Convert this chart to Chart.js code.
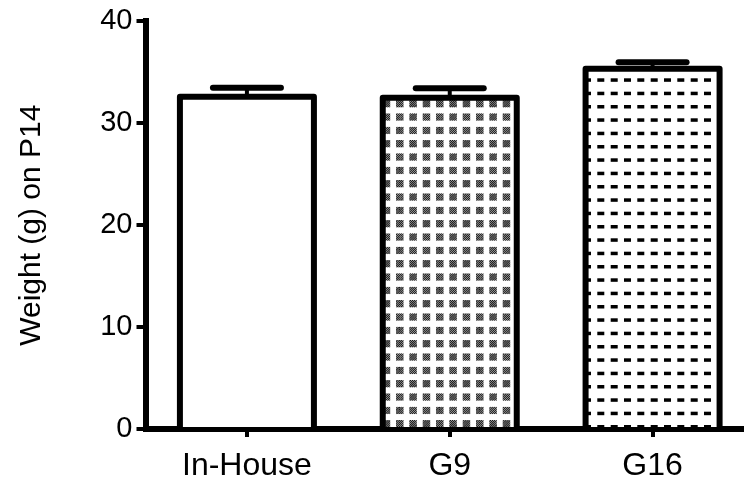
<!DOCTYPE html>
<html>
<head>
<meta charset="utf-8">
<script src="https://cdn.jsdelivr.net/npm/chart.js@4/dist/chart.umd.min.js"></script>
<style>
  html, body { margin: 0; padding: 0; background: #fff; overflow: hidden; }
  #wrap { width: 744px; height: 484px; overflow: hidden; }
  canvas { display: block; }
</style>
</head>
<body>
<div id="wrap"><canvas id="c" width="754" height="484"></canvas></div>
<script>
// ---- data ----
const categories = ['In-House', 'G9', 'G16'];
const weights = [32.6, 32.5, 35.35];      // mean weight (g) on P14
const errorsUp = [0.9, 0.95, 0.63];      // upper error bar (SEM)
const yTicks = [0, 10, 20, 30, 40];
const yTitle = 'Weight (g) on P14';

// ---- fill patterns ----
function makeHatchPattern() {
  const t = document.createElement('canvas');
  t.width = 40; t.height = 40;
  const g = t.getContext('2d');
  g.fillStyle = '#fff'; g.fillRect(0, 0, 40, 40);
  for (const ox of [9.3, 22.7, 36.0]) {
    for (const oy of [6.7, 20, 33.3]) {
      for (const dx of [0, -40]) for (const dy of [0, -40]) {
        const x0 = ox + dx, y0 = oy + dy;
        g.save();
        g.beginPath(); g.rect(x0, y0, 7.5, 7.5); g.clip();
        g.strokeStyle = '#1a1a1a'; g.lineWidth = 1.15;
        for (let k = -8; k <= 8; k += 2.1) {
          g.beginPath();
          g.moveTo(x0 + k, y0 + 7.5);
          g.lineTo(x0 + k + 7.5, y0);
          g.stroke();
        }
        g.restore();
      }
    }
  }
  return document.createElement('canvas').getContext('2d').createPattern(t, 'repeat');
}
function makeDashPattern() {
  const t = document.createElement('canvas');
  t.width = 40; t.height = 40;
  const g = t.getContext('2d');
  g.fillStyle = '#fff'; g.fillRect(0, 0, 40, 40);
  g.fillStyle = '#000';
  for (const ox of [10.7, 24.0, 37.3]) {
    for (const oy of [11.7, 25.0, 38.3]) {
      for (const dx of [0, -40]) for (const dy of [0, -40]) {
        g.fillRect(ox + dx, oy + dy, 7, 3.5);
      }
    }
  }
  return document.createElement('canvas').getContext('2d').createPattern(t, 'repeat');
}
const fills = ['#ffffff', makeHatchPattern(), makeDashPattern()];

// ---- plugin: centered bar outlines + error bars ----
const outlineAndErrors = {
  id: 'outlineAndErrors',
  afterDatasetsDraw(chart) {
    const ctx = chart.ctx;
    const meta = chart.getDatasetMeta(0);
    const yScale = chart.scales.y;
    ctx.save();
    ctx.strokeStyle = '#000';
    meta.data.forEach((bar, i) => {
      const p = bar.getProps(['x', 'y', 'base', 'width'], true);
      const l = p.x - p.width / 2, r = p.x + p.width / 2;
      ctx.lineWidth = 6;
      ctx.lineJoin = 'round';
      ctx.beginPath();
      ctx.moveTo(l, p.base);
      ctx.lineTo(l, p.y);
      ctx.lineTo(r, p.y);
      ctx.lineTo(r, p.base);
      ctx.stroke();
      const yTop = yScale.getPixelForValue(weights[i] + errorsUp[i]);
      ctx.lineWidth = 4;
      ctx.lineCap = 'butt';
      ctx.beginPath();
      ctx.moveTo(p.x, p.y);
      ctx.lineTo(p.x, yTop);
      ctx.stroke();
      ctx.lineWidth = 6;
      ctx.lineCap = 'round';
      ctx.beginPath();
      ctx.moveTo(p.x - 34, yTop);
      ctx.lineTo(p.x + 34, yTop);
      ctx.stroke();
    });
    ctx.restore();
  }
};

new Chart(document.getElementById('c'), {
  type: 'bar',
  data: {
    labels: categories,
    datasets: [{
      data: weights,
      backgroundColor: fills,
      borderWidth: 0,
      barThickness: 134,
      inflateAmount: 0
    }]
  },
  options: {
    responsive: false,
    animation: false,
    events: [],
    layout: { padding: { top: 21, right: 0, left: 0, bottom: 0 } },
    plugins: { legend: { display: false }, tooltip: { enabled: false } },
    scales: {
      x: {
        offset: true,
        afterFit: s => { s.height = 55; },
        grid: { display: true, drawOnChartArea: false, offset: false, tickLength: 8, lineWidth: 4, color: '#000' },
        border: { display: true, width: 6, color: '#000' },
        ticks: { color: '#000', padding: 10, font: { family: 'Liberation Sans', size: 32 } }
      },
      y: {
        min: 0, max: 40,
        afterFit: s => { s.width = 145.5; },
        afterBuildTicks: s => { s.ticks = yTicks.map(v => ({ value: v })); },
        grid: { display: true, drawOnChartArea: false, tickLength: 9, lineWidth: 4, color: '#000' },
        border: { display: true, width: 6, color: '#000' },
        ticks: { color: '#000', padding: 4, font: { family: 'Liberation Sans', size: 29 } },
        title: {
          display: true, text: yTitle, color: '#000',
          font: { family: 'Liberation Sans', size: 30 },
          padding: { top: 14, bottom: 0 }
        }
      }
    }
  },
  plugins: [outlineAndErrors]
});
</script>
</body>
</html>
